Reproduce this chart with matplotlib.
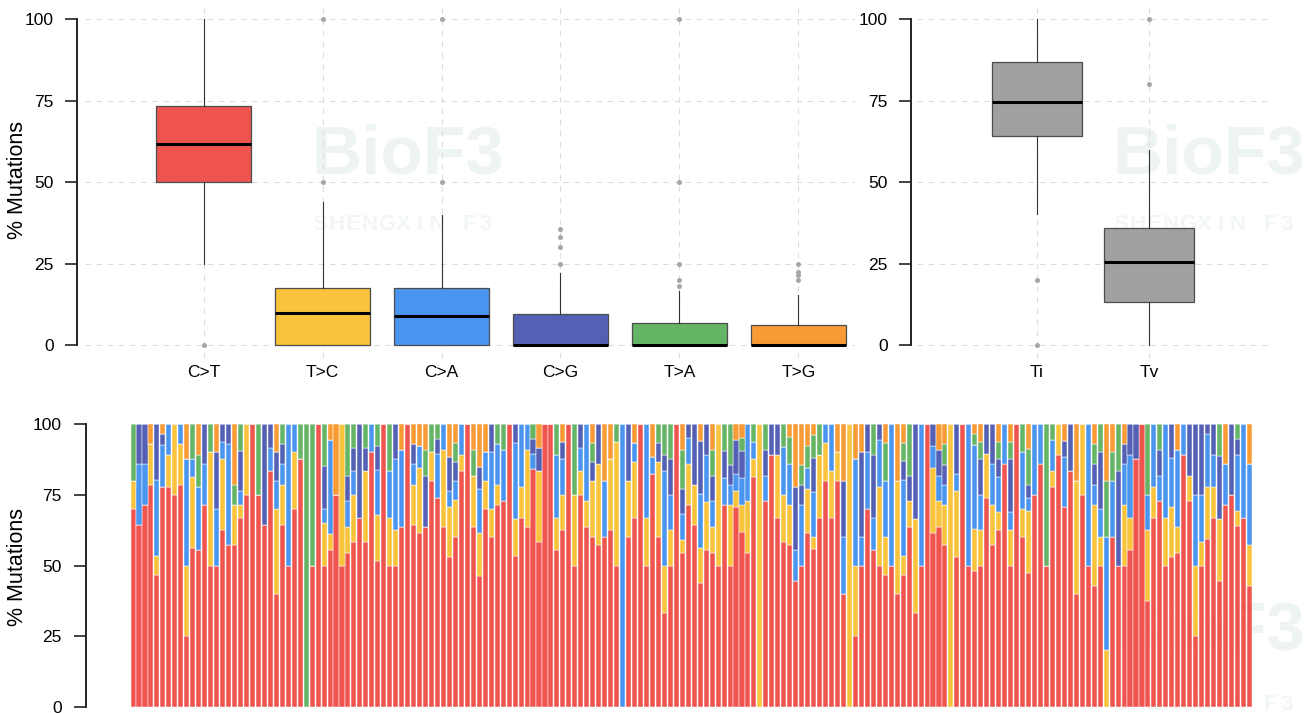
import matplotlib.pyplot as plt
import numpy as np

plt.rcParams["font.family"] = ["Liberation Sans", "DejaVu Sans"]

W, H = 1314, 713

classes = ["C>T", "T>C", "C>A", "C>G", "T>A", "T>G"]
class_colors = ["#F0544F", "#F9C33B", "#4A95EF", "#5360B4", "#66B566", "#F99B35"]

# box summaries
class_whislo = [25, 0, 0, 0, 0, 0]
class_q1 = [50, 0, 0, 0, 0, 0]
class_med = [61.6, 10.0, 9.1, 0, 0, 0]
class_q3 = [73.2, 17.6, 17.6, 9.7, 7.0, 6.2]
class_whishi = [100, 43.9, 40.0, 22.2, 16.6, 15.4]
class_fliers = [[0], [50, 100], [50, 100], [25, 30, 33.3, 35.7],
                [18.2, 20, 25, 50, 100], [20, 21.5, 22.6, 25]]

titv = ["Ti", "Tv"]
titv_whislo = [40.1, 0]
titv_q1 = [64.1, 13.4]
titv_med = [74.5, 25.6]
titv_q3 = [86.7, 35.9]
titv_whishi = [100, 59.9]
titv_fliers = [[0, 20], [80, 100]]

# per-sample fractions (%), one entry per sample, left to right
c_to_t = [70, 64.3, 71.4, 78.6, 46.7, 77.8, 77.8, 75, 78.6, 25,
          56.2, 55.6, 71.4, 50, 50, 62.5, 57.1, 57.1, 66.7, 75,
          100, 75, 64.3, 83.3, 40, 64.3, 50, 70, 87.5, 0,
          50, 100, 50, 55.6, 75, 50, 54.5, 58.3, 66.7, 58.3,
          90, 51.7, 100, 50, 50, 63.6, 100, 64.3, 61.5, 63.6,
          80, 73.7, 63.6, 52.9, 60, 83.3, 100, 63.6, 46.2, 70,
          60, 71.4, 72.7, 100, 53.3, 66.7, 63.6, 84.2, 58.3, 100,
          100, 55.6, 62.5, 100, 50, 75, 63.6, 60, 57.1, 60,
          62.5, 50, 0, 60, 66.7, 100, 50, 82.4, 60, 33.3,
          50, 100, 54.5, 71.4, 64.3, 43.8, 55.6, 54.5, 50, 71.4,
          50, 70.6, 61.9, 54.5, 81.2, 0, 72.7, 88.9, 66.7, 58.3,
          57.1, 44.4, 50, 61.5, 56, 66.7, 80, 66.7, 80, 40,
          0, 25, 50, 70, 55.6, 50, 46.7, 50, 40, 46.7,
          63.6, 33.3, 50, 100, 61.5, 63.6, 57.1, 0, 52.9, 100,
          50, 48.1, 50, 73.7, 57.1, 62.5, 85.7, 50, 100, 60,
          47.5, 75, 85.7, 50, 77.8, 88.9, 70.6, 83.3, 40, 75,
          50, 42.9, 50, 0, 60, 50, 50, 55.6, 87.5, 100,
          37.5, 66.7, 72.7, 50, 52.9, 54.5, 88.9, 72.7, 25, 50,
          59.3, 66.7, 44.4, 71.4, 75, 63.8, 66.7, 42.9]
t_to_c = [10, 0, 0, 14.3, 6.7, 0, 11.1, 25, 14.3, 25,
          25, 0, 0, 40, 0, 25, 0, 14.3, 4.8, 25,
          0, 0, 0, 0, 30, 14.3, 0, 20, 0, 0,
          0, 0, 15, 5.6, 0, 50, 9.1, 16.7, 0, 25,
          0, 16.1, 0, 16.7, 12.5, 0, 0, 14.3, 23.1, 0,
          10, 0, 27.3, 17.6, 13.3, 5.6, 0, 18.2, 15.4, 10,
          10, 7.1, 0, 0, 13.3, 11.1, 27.3, 0, 25, 0,
          0, 11.1, 12.5, 0, 25, 8.3, 9.1, 20, 28.6, 0,
          25, 43.8, 0, 20, 20, 0, 16.7, 0, 26.7, 16.7,
          12.5, 0, 4.5, 14.3, 14.3, 12.5, 16.7, 9.1, 50, 0,
          21.4, 5.9, 9.5, 18.2, 6.3, 100, 0, 0, 22.2, 16.7,
          14.3, 0, 0, 15.4, 4, 22.2, 13.3, 16.7, 10, 0,
          100, 25, 0, 0, 0, 27.8, 13.3, 0, 40, 6.7,
          9.1, 33.3, 0, 0, 23.1, 9.1, 14.3, 100, 23.5, 0,
          0, 14.8, 12.5, 15.8, 14.3, 6.25, 0, 12.5, 0, 10,
          21.9, 0, 0, 0, 5.6, 11.1, 0, 0, 40, 25,
          0, 28.6, 10, 20, 0, 0, 21.4, 11.1, 0, 0,
          25, 11.1, 0, 16.7, 17.6, 9.1, 0, 9.1, 25, 8.3,
          18.5, 11.1, 22.2, 0, 0, 5.6, 0, 14.3]
c_to_a = [0, 21.4, 14.3, 0, 26.7, 14.8, 11.1, 0, 7.1, 37.5,
          6.3, 22.2, 14.3, 0, 20, 6.25, 35.7, 0, 4.8, 0,
          0, 0, 0, 8.3, 10, 7.1, 50, 10, 0, 0,
          0, 0, 5, 33.3, 0, 0, 9.1, 8.3, 0, 0,
          10, 16.1, 0, 16.7, 25, 27.3, 0, 7.1, 7.7, 0,
          0, 15.8, 9.1, 5.9, 6.7, 11.1, 0, 0, 15.4, 10,
          20, 14.3, 18.2, 0, 26.7, 22.2, 9.1, 5.3, 0, 0,
          0, 22.2, 12.5, 0, 0, 8.3, 27.3, 0, 0, 20,
          0, 0, 100, 0, 6.7, 0, 33.3, 5.9, 0, 33.3,
          12.5, 0, 9.1, 9.5, 0, 18.8, 16.7, 9.1, 0, 9.5,
          7.1, 5.9, 9.5, 27.3, 6.3, 0, 9.1, 0, 0, 16.7,
          14.3, 11.1, 21.4, 7.7, 16, 0, 6.7, 16.6, 0, 20,
          0, 37.5, 10, 20, 11.1, 16.7, 20, 50, 0, 26.7,
          0, 0, 50, 0, 7.7, 9.1, 7.1, 0, 5.9, 0,
          50, 29.6, 12.5, 0, 14.3, 12.5, 14.3, 6.25, 0, 20,
          4.5, 25, 14.3, 0, 11.1, 0, 17.6, 0, 0, 0,
          50, 7.1, 10, 40, 20, 0, 14.3, 22.2, 0, 0,
          12.5, 22.2, 9.1, 33.3, 17.6, 27.3, 11.1, 0, 25, 16.7,
          18.5, 11.1, 0, 14.3, 0, 19.5, 33.3, 28.6]
c_to_g = [0, 14.3, 14.3, 0, 20, 3.7, 0, 0, 0, 0,
          0, 0, 14.3, 0, 20, 6.25, 7.2, 0, 14.3, 0,
          0, 0, 35.7, 8.4, 10, 7.1, 0, 0, 0, 0,
          0, 0, 15, 0, 0, 0, 9.1, 8.3, 33.3, 8.3,
          0, 8.3, 0, 0, 12.5, 0, 0, 7.1, 0, 18.2,
          0, 5.3, 0, 11.8, 6.7, 0, 0, 0, 7.7, 0,
          10, 0, 0, 0, 6.7, 0, 0, 5.3, 8.3, 0,
          0, 0, 6.25, 0, 0, 8.4, 0, 6.7, 14.3, 0,
          0, 0, 0, 20, 0, 0, 0, 0, 6.7, 5.6,
          12.5, 0, 9.1, 4.8, 21.4, 18.8, 11, 9.1, 0, 9.5,
          7.1, 11.8, 9.5, 0, 0, 0, 9.1, 11.1, 11.1, 0,
          0, 22.2, 7.1, 0, 12, 0, 0, 0, 0, 20,
          0, 0, 30, 10, 22.2, 5.5, 0, 0, 0, 6.7,
          9.1, 33.4, 0, 0, 7.7, 9.1, 7.1, 0, 17.7, 0,
          0, 0, 12.5, 10.5, 14.3, 6.25, 0, 18.75, 0, 0,
          4.4, 0, 0, 0, 0, 0, 5.9, 16.7, 0, 0,
          0, 7.1, 20, 0, 0, 33.3, 7.1, 11.1, 12.5, 0,
          0, 0, 9.1, 0, 11.9, 0, 0, 18.2, 25, 25,
          3.7, 11.1, 22.2, 0, 25, 5.7, 0, 0]
t_to_a = [20, 0, 0, 0, 0, 0, 0, 0, 0, 0,
          12.5, 11.1, 0, 10, 0, 0, 0, 7.1, 9.4, 0,
          0, 25, 0, 0, 0, 7.2, 0, 0, 12.5, 100,
          50, 0, 15, 0, 0, 0, 18.2, 8.4, 0, 8.4,
          0, 7.8, 0, 16.6, 0, 0, 0, 0, 0, 9.1,
          10, 5.2, 0, 0, 6.7, 0, 0, 9.1, 0, 0,
          0, 7.2, 9.1, 0, 0, 0, 0, 5.2, 0, 0,
          0, 11.1, 0, 0, 25, 0, 0, 6.7, 0, 0,
          0, 6.2, 0, 0, 0, 0, 0, 0, 6.6, 11.1,
          12.5, 0, 13.7, 0, 0, 0, 0, 9.1, 0, 9.6,
          14.4, 0, 4.8, 0, 6.2, 0, 9.1, 0, 0, 8.3,
          9.8, 0, 7.1, 7.7, 8, 11.1, 0, 0, 0, 0,
          0, 0, 0, 0, 11.1, 0, 13.3, 0, 0, 6.6,
          18.2, 0, 0, 0, 0, 0, 7.2, 0, 0, 0,
          0, 3.8, 6.25, 0, 0, 6.25, 0, 6.25, 0, 10,
          12.8, 0, 0, 50, 5.5, 0, 0, 0, 0, 0,
          0, 7.1, 10, 20, 10, 16.7, 0, 0, 0, 0,
          25, 0, 9.1, 0, 0, 0, 0, 0, 0, 0,
          0, 0, 11.2, 0, 0, 5.4, 0, 0]
t_to_g = [0, 0, 0, 7.1, 0, 3.7, 0, 0, 0, 12.5,
          0, 11.1, 0, 0, 10, 0, 0, 21.5, 0, 0,
          0, 0, 0, 0, 10, 0, 0, 0, 0, 0,
          0, 0, 0, 5.5, 25, 0, 0, 0, 0, 0,
          0, 0, 0, 0, 0, 9.1, 0, 7.2, 7.7, 9.1,
          0, 0, 0, 11.8, 6.6, 0, 0, 9.1, 15.3, 10,
          0, 0, 0, 0, 0, 0, 0, 0, 8.4, 0,
          0, 0, 6.25, 0, 0, 0, 0, 6.6, 0, 20,
          12.5, 0, 0, 0, 6.6, 0, 0, 11.7, 0, 0,
          0, 0, 9.1, 0, 0, 6.1, 0, 9.1, 0, 0,
          0, 5.8, 4.8, 0, 0, 0, 0, 0, 0, 0,
          4.5, 22.3, 14.4, 7.7, 4, 0, 0, 0, 10, 20,
          0, 12.5, 10, 0, 0, 0, 6.7, 0, 20, 6.6,
          0, 0, 0, 0, 0, 9.1, 7.2, 0, 0, 0,
          0, 3.7, 6.25, 0, 0, 6.25, 0, 6.25, 0, 0,
          8.9, 0, 0, 0, 0, 0, 5.9, 0, 20, 0,
          0, 7.2, 0, 20, 10, 0, 7.2, 0, 0, 0,
          0, 0, 0, 0, 0, 9.1, 0, 0, 0, 0,
          0, 0, 0, 14.3, 0, 0, 0, 14.2]

sample_fracs = [c_to_t, t_to_c, c_to_a, c_to_g, t_to_a, t_to_g]
yticks = [0, 25, 50, 75, 100]

fig = plt.figure(figsize=(W / 100, H / 100), dpi=100)


def px_axes(left, top, right, bottom):
    ax = fig.add_axes([left / W, 1 - bottom / H, (right - left) / W, (bottom - top) / H])
    ax.patch.set_alpha(0)
    return ax


def style_axis(ax, offset):
    for side in ["top", "right", "bottom"]:
        ax.spines[side].set_visible(False)
    ax.spines["left"].set_position(("outward", offset))
    ax.spines["left"].set_bounds(0, 100)
    ax.spines["left"].set_linewidth(1.4)
    ax.spines["left"].set_color("#222222")
    ax.set_yticks(yticks)
    ax.tick_params(axis="y", length=8.6, width=1.2, color="#222222", pad=8, labelsize=12.5)
    ax.tick_params(axis="x", length=0, pad=5, labelsize=12.5)


def draw_boxes(ax, labels, whislo, q1, med, q3, whishi, fliers, colors):
    stats = []
    for i in range(len(labels)):
        stats.append(dict(label=labels[i], whislo=whislo[i], q1=q1[i], med=med[i],
                          q3=q3[i], whishi=whishi[i], fliers=fliers[i]))
    pos = np.arange(1, len(labels) + 1)
    bp = ax.bxp(stats, positions=pos, widths=0.8, patch_artist=True, showcaps=False,
                boxprops=dict(edgecolor="#4D4D4D", linewidth=0.9),
                medianprops=dict(color="black", linewidth=2.2),
                whiskerprops=dict(color="#333333", linewidth=0.8),
                flierprops=dict(marker="o", markersize=3.6, markerfacecolor="#A6A6A6",
                                markeredgecolor="none"))
    for patch, c in zip(bp["boxes"], colors):
        patch.set_facecolor(c)
    ax.set_axisbelow(True)
    ax.grid(True, linestyle=(0, (5, 5)), color="#DDDDDD", linewidth=0.8)
    ax.set_xticks(pos)
    ax.set_xticklabels(labels)


# top left: class boxplot
ax1 = px_axes(85, 5.95, 855, 358.4)
draw_boxes(ax1, classes, class_whislo, class_q1, class_med, class_q3, class_whishi,
           class_fliers, class_colors)
ax1.set_xlim(0.004, 6.475)
ax1.set_ylim(-4, 104)
style_axis(ax1, 5.8)

# top right: Ti / Tv
ax2 = px_axes(917, 5.95, 1271, 358.4)
draw_boxes(ax2, titv, titv_whislo, titv_q1, titv_med, titv_q3, titv_whishi,
           titv_fliers, ["#A0A0A0", "#A0A0A0"])
ax2.set_xlim(-0.071, 3.089)
ax2.set_ylim(-4, 104)
style_axis(ax2, 4.3)

# bottom: stacked bars per sample
ax3 = px_axes(86, 424, 1300, 707)
x = np.arange(len(c_to_t))
base = np.zeros(len(x))
for vals, c in zip(sample_fracs, class_colors):
    vals = np.array(vals, dtype=float)
    ax3.bar(x, vals, bottom=base, width=0.85, color=c, edgecolor="white", linewidth=0.35)
    base += vals
ax3.set_xlim(-7.879, 195.47)
ax3.set_ylim(0, 100)
style_axis(ax3, 0)
ax3.set_xticks([])
ax3.tick_params(axis="y", pad=9)

fig.text(18 / W, 1 - 180 / H, "% Mutations", rotation=90, ha="center", va="center", fontsize=15.5)
fig.text(18 / W, 1 - 567 / H, "% Mutations", rotation=90, ha="center", va="center", fontsize=15.5)

# faint watermark behind everything
wm = "#EEF4F2"
for cx, cy, sy in [(408, 155, 225), (1209, 155, 225), (1209, 631, 704)]:
    fig.text(cx / W, 1 - cy / H, "BioF3", fontsize=50, fontweight="bold", color=wm,
             ha="center", va="center", zorder=-1)
    for j, ch in enumerate("SHENGXIN F3"):
        fig.text((cx - 88 + 16.6 * j) / W, 1 - sy / H, ch, fontsize=16, fontweight="bold",
                 color="#F2F6F5", ha="center", va="center", zorder=-1)

fig.savefig("out.png", dpi=100)
